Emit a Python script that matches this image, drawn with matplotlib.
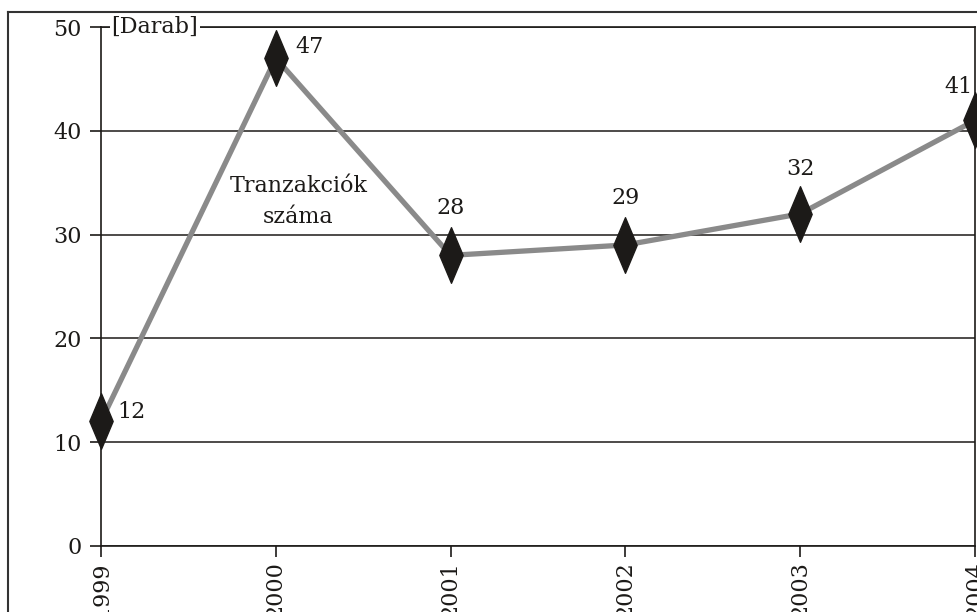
import numpy as np
import matplotlib.pyplot as plt
from matplotlib.path import Path
from matplotlib.lines import Line2D

# data
years = [1999, 2000, 2001, 2002, 2003, 2004]
counts = [12, 47, 28, 29, 32, 41]
y_ticks = [0, 10, 20, 30, 40, 50]

plt.rcParams['font.family'] = ['DejaVu Serif']

fig = plt.figure(figsize=(9.78, 6.12), dpi=100)
ax = fig.add_axes([101/978, 66/612, 874/978, 519/612])

# thin tall diamond
diamond = Path([(0, 1), (0.42, 0), (0, -1), (-0.42, 0), (0, 1)],
               [Path.MOVETO, Path.LINETO, Path.LINETO, Path.LINETO, Path.CLOSEPOLY])

ax.plot(years, counts, color='#8a8a8a', lw=3.8, zorder=3, solid_capstyle='round')
ax.plot(years, counts, ls='none', marker=diamond, ms=40, color='#1c1a18',
        zorder=4, clip_on=False)

ax.set_xlim(1999, 2004)
ax.set_ylim(0, 50)
ax.set_yticks(y_ticks)
ax.set_xticks(years)
ax.set_xticklabels([str(y) for y in years], rotation=90, va='top')
ax.tick_params(axis='both', direction='out', length=8, width=1.2, labelsize=16,
               colors='#1c1a18')
ax.tick_params(axis='x', pad=3)
ax.tick_params(axis='y', pad=6)

ax.grid(axis='y', color='#1c1a18', lw=1.1)
for s in ax.spines.values():
    s.set_linewidth(1.2)
    s.set_color('#1c1a18')

# value labels: offset in points, alignment
offsets = {1999: (12, 7, 'left', 'center'),
           2000: (14, 8, 'left', 'center'),
           2001: (0, 34, 'center', 'center'),
           2002: (0, 34, 'center', 'center'),
           2003: (0, 32, 'center', 'center'),
           2004: (-2, 24, 'right', 'center')}
for yr, c in zip(years, counts):
    dx, dy, ha, va = offsets[yr]
    ax.annotate(str(c), (yr, c), xytext=(dx, dy), textcoords='offset points',
                ha=ha, va=va, fontsize=16, color='#1c1a18', zorder=5)

ax.text(2000.13, 33.2, 'Tranzakciók\nszáma', ha='center', va='center',
        fontsize=16, linespacing=1.5, color='#1c1a18')

ax.text(1999.06, 50, '[Darab]', ha='left', va='center', fontsize=16,
        color='#1c1a18', zorder=6,
        bbox=dict(facecolor='white', edgecolor='none', pad=1))

# outer frame of the original page
fig.add_artist(Line2D([8/978, 8/978], [0, 1 - 12/612], color='#333333', lw=1.5))
fig.add_artist(Line2D([8/978, 1], [1 - 12/612, 1 - 12/612], color='#333333', lw=1.5))

fig.savefig('out.png', dpi=100)
